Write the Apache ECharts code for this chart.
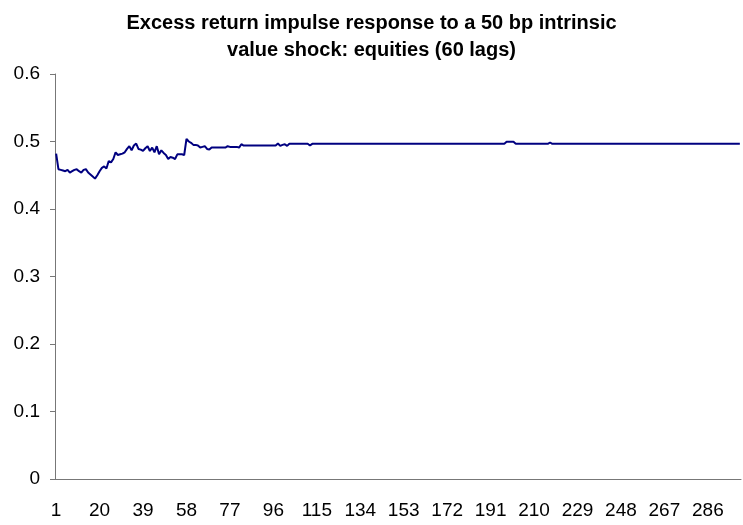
<!DOCTYPE html>
<html>
<head>
<meta charset="utf-8">
<script src="https://cdn.jsdelivr.net/npm/echarts@6/dist/echarts.min.js"></script>
<style>
  html, body { margin: 0; padding: 0; background: #fff; }
  #chart { width: 743px; height: 525px; }
</style>
</head>
<body>
<div id="chart"></div>
<script>
// impulse response values, lag 1..300
var responseValues = [
    0.482, 0.459, 0.458, 0.457, 0.456, 0.458, 0.454, 0.456, 0.458, 0.459,
    0.456, 0.454, 0.458, 0.459, 0.454, 0.451, 0.448, 0.445, 0.450, 0.456,
    0.461, 0.463, 0.460, 0.471, 0.469, 0.474, 0.484, 0.480, 0.481, 0.482,
    0.484, 0.489, 0.493, 0.487, 0.494, 0.497, 0.489, 0.488, 0.486, 0.490,
    0.493, 0.486, 0.491, 0.484, 0.493, 0.481, 0.487, 0.483, 0.480, 0.474,
    0.477, 0.476, 0.474, 0.481, 0.481, 0.481, 0.480, 0.504, 0.500, 0.498,
    0.495, 0.495, 0.494, 0.491, 0.492, 0.493, 0.489, 0.488, 0.491, 0.491,
    0.491, 0.491, 0.491, 0.491, 0.491, 0.493, 0.492, 0.492, 0.492, 0.492,
    0.491, 0.496, 0.494, 0.494, 0.494, 0.494, 0.494, 0.494, 0.494, 0.494,
    0.494, 0.494, 0.494, 0.494, 0.494, 0.494, 0.494, 0.497, 0.4935, 0.495,
    0.496, 0.4935, 0.4967, 0.4967, 0.4967, 0.4967, 0.4967, 0.4967, 0.4967, 0.4967,
    0.4967, 0.494, 0.4965, 0.4965, 0.4965, 0.4965, 0.4965, 0.4965, 0.4965, 0.4965,
    0.4965, 0.4965, 0.4965, 0.4965, 0.4965, 0.4965, 0.4965, 0.4965, 0.4965, 0.4965,
    0.4965, 0.4965, 0.4965, 0.4965, 0.4965, 0.4965, 0.4965, 0.4965, 0.4965, 0.4965,
    0.4965, 0.4965, 0.4965, 0.4965, 0.4965, 0.4965, 0.4965, 0.4965, 0.4965, 0.4965,
    0.4965, 0.4965, 0.4965, 0.4965, 0.4965, 0.4965, 0.4965, 0.4965, 0.4965, 0.4965,
    0.4965, 0.4965, 0.4965, 0.4965, 0.4965, 0.4965, 0.4965, 0.4965, 0.4965, 0.4965,
    0.4965, 0.4965, 0.4965, 0.4965, 0.4965, 0.4965, 0.4965, 0.4965, 0.4965, 0.4965,
    0.4965, 0.4965, 0.4965, 0.4965, 0.4965, 0.4965, 0.4965, 0.4965, 0.4965, 0.4965,
    0.4965, 0.4965, 0.4965, 0.4965, 0.4965, 0.4965, 0.4965, 0.4995, 0.4995, 0.4995,
    0.4995, 0.4965, 0.4965, 0.4965, 0.4965, 0.4965, 0.4965, 0.4965, 0.4965, 0.4965,
    0.4965, 0.4965, 0.4965, 0.4965, 0.4965, 0.4965, 0.4985, 0.4965, 0.4965, 0.4965,
    0.4965, 0.4965, 0.4965, 0.4965, 0.4965, 0.4965, 0.4965, 0.4965, 0.4965, 0.4965,
    0.4965, 0.4965, 0.4965, 0.4965, 0.4965, 0.4965, 0.4965, 0.4965, 0.4965, 0.4965,
    0.4965, 0.4965, 0.4965, 0.4965, 0.4965, 0.4965, 0.4965, 0.4965, 0.4965, 0.4965,
    0.4965, 0.4965, 0.4965, 0.4965, 0.4965, 0.4965, 0.4965, 0.4965, 0.4965, 0.4965,
    0.4965, 0.4965, 0.4965, 0.4965, 0.4965, 0.4965, 0.4965, 0.4965, 0.4965, 0.4965,
    0.4965, 0.4965, 0.4965, 0.4965, 0.4965, 0.4965, 0.4965, 0.4965, 0.4965, 0.4965,
    0.4965, 0.4965, 0.4965, 0.4965, 0.4965, 0.4965, 0.4965, 0.4965, 0.4965, 0.4965,
    0.4965, 0.4965, 0.4965, 0.4965, 0.4965, 0.4965, 0.4965, 0.4965, 0.4965, 0.4965
];

// lag numbers on the category axis
var lags = [];
for (var i = 1; i <= responseValues.length; i++) lags.push(String(i));

var titleLines = ['Excess return impulse response to a 50 bp intrinsic', 'value shock: equities (60 lags)'];

var myChart = echarts.init(document.getElementById('chart'));

option = {
    backgroundColor: '#fff',
    animation: false,
    title: {
        text: titleLines.join('\n'),
        left: 'center',
        top: 5,
        textStyle: {
            fontFamily: 'Liberation Sans',
            fontSize: 20,
            fontWeight: 'bold',
            color: '#000',
            lineHeight: 27
        }
    },
    grid: {
        left: 55,
        right: 2,
        top: 74,
        bottom: 46
    },
    xAxis: {
        type: 'category',
        data: lags,
        boundaryGap: true,
        axisLine: { lineStyle: { color: '#777', width: 1 } },
        axisTick: { show: false },
        axisLabel: {
            interval: 18,
            margin: 22,
            color: '#000',
            fontFamily: 'Liberation Sans',
            fontSize: 19
        },
        splitLine: { show: false }
    },
    yAxis: {
        type: 'value',
        min: 0,
        max: 0.6,
        interval: 0.1,
        axisLine: { show: true, lineStyle: { color: '#777', width: 1 } },
        axisTick: { show: true, length: 5, lineStyle: { color: '#777' } },
        axisLabel: {
            margin: 15,
            color: '#000',
            fontFamily: 'Liberation Sans',
            fontSize: 19
        },
        splitLine: { show: false }
    },
    series: [
        {
            name: 'Excess return',
            type: 'line',
            data: responseValues,
            showSymbol: false,
            lineStyle: { color: '#000080', width: 2 },
            itemStyle: { color: '#000080' }
        }
    ]
};

myChart.setOption(option);
</script>
</body>
</html>
